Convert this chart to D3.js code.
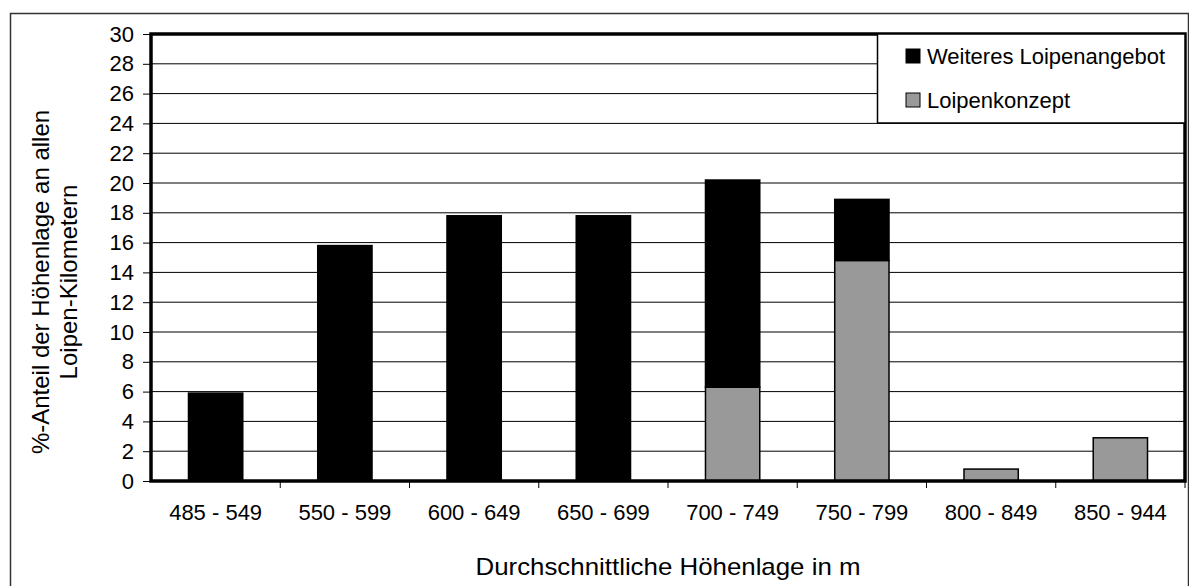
<!DOCTYPE html>
<html lang="de">
<head>
    <meta charset="utf-8"/>
    <title>Höhenlage Loipen</title>
    <script src="https://d3js.org/d3.v7.min.js"></script>
    <style>
        body { margin: 0; background: #fff; }
        svg { display: block; font-family: "Liberation Sans", Arial, sans-serif; }
        text { fill: #000; }
    </style>
</head>
<body>
<svg width="1189" height="586"></svg>
<script>
    // data
    const categories = ["485 - 549", "550 - 599", "600 - 649", "650 - 699", "700 - 749", "750 - 799", "800 - 849", "850 - 944"];
    const loipenkonzept = [0, 0, 0, 0, 6.3, 14.8, 0.8, 2.9];
    const weiteres = [5.9, 15.8, 17.8, 17.8, 13.9, 4.1, 0, 0];
    const yTicks = [0, 2, 4, 6, 8, 10, 12, 14, 16, 18, 20, 22, 24, 26, 28, 30];
    const seriesNames = ["Weiteres Loipenangebot", "Loipenkonzept"];
    const seriesColors = ["#000000", "#999999"];

    const svg = d3.select("svg");
    const plotL = 151, plotR = 1185, plotT = 34, plotB = 481;
    const fs = 22;

    // outer chart frame
    svg.append("rect")
        .attr("x", 10.5).attr("y", 13.5)
        .attr("width", 1178).attr("height", 600)
        .attr("fill", "none").attr("stroke", "#333").attr("stroke-width", 1.5);

    const x = d3.scaleBand().domain(categories).range([plotL, plotR])
        .paddingInner(0.58).paddingOuter(0.29);
    const y = d3.scaleLinear().domain([0, 30]).range([plotB, plotT]);

    // gridlines
    svg.append("g").selectAll("line")
        .data(yTicks.filter(d => d > 0 && d < 30))
        .enter().append("line")
        .attr("x1", plotL).attr("x2", plotR)
        .attr("y1", d => y(d)).attr("y2", d => y(d))
        .attr("stroke", "#000").attr("stroke-width", 1);

    // stacked bars: Loipenkonzept at bottom, Weiteres on top
    const rows = categories.map((c, i) => ({cat: c, k: loipenkonzept[i], w: weiteres[i]}));
    const bars = svg.append("g");
    bars.selectAll(".grey")
        .data(rows.filter(d => d.k > 0))
        .enter().append("rect")
        .attr("class", "grey")
        .attr("x", d => x(d.cat))
        .attr("width", x.bandwidth())
        .attr("y", d => y(d.k))
        .attr("height", d => y(0) - y(d.k))
        .attr("fill", seriesColors[1])
        .attr("stroke", "#000").attr("stroke-width", 1.5);
    bars.selectAll(".black")
        .data(rows.filter(d => d.w > 0))
        .enter().append("rect")
        .attr("class", "black")
        .attr("x", d => x(d.cat))
        .attr("width", x.bandwidth())
        .attr("y", d => y(d.k + d.w))
        .attr("height", d => y(d.k) - y(d.k + d.w))
        .attr("fill", seriesColors[0])
        .attr("stroke", "#000").attr("stroke-width", 1.5);

    // plot border
    svg.append("rect")
        .attr("x", plotL).attr("y", plotT)
        .attr("width", plotR - plotL).attr("height", plotB - plotT)
        .attr("fill", "none").attr("stroke", "#000").attr("stroke-width", 3.5);

    // y axis
    const yAxis = svg.append("g")
        .attr("transform", `translate(${plotL - 1},0)`)
        .call(d3.axisLeft(y).tickValues(yTicks).tickSize(7).tickPadding(9));
    yAxis.select(".domain").remove();
    yAxis.selectAll("line").attr("stroke", "#000").attr("stroke-width", 1);
    yAxis.selectAll("text").attr("font-size", fs).attr("font-family", "Liberation Sans");

    // x axis labels + boundary ticks
    const xAxis = svg.append("g")
        .attr("transform", `translate(0,${plotB})`)
        .call(d3.axisBottom(x).tickSize(0).tickPadding(23));
    xAxis.select(".domain").remove();
    xAxis.selectAll("text").attr("font-size", fs).attr("font-family", "Liberation Sans");

    const half = x.step() * x.paddingInner() / 2;
    svg.append("g").selectAll("line")
        .data(categories)
        .enter().append("line")
        .attr("x1", d => x(d) + x.bandwidth() + half)
        .attr("x2", d => x(d) + x.bandwidth() + half)
        .attr("y1", plotB).attr("y2", plotB + 7)
        .attr("stroke", "#000").attr("stroke-width", 1);

    // axis titles
    svg.append("text")
        .attr("x", (plotL + plotR) / 2).attr("y", 575)
        .attr("text-anchor", "middle").attr("font-size", 24)
        .attr("textLength", 385).attr("lengthAdjust", "spacingAndGlyphs")
        .text("Durchschnittliche Höhenlage in m");

    const yTitle = svg.append("text")
        .attr("transform", "translate(49,282) rotate(-90)")
        .attr("text-anchor", "middle").attr("font-size", 24);
    yTitle.append("tspan").attr("x", 0).attr("dy", 0).text("%-Anteil der Höhenlage an allen");
    yTitle.append("tspan").attr("x", 0).attr("dy", 28).text("Loipen-Kilometern");

    // legend
    const lg = svg.append("g");
    lg.append("rect")
        .attr("x", 877.5).attr("y", plotT)
        .attr("width", plotR - 877.5).attr("height", 89)
        .attr("fill", "#fff").attr("stroke", "#000").attr("stroke-width", 1.5);
    const items = lg.selectAll(".item")
        .data(seriesNames)
        .enter().append("g")
        .attr("class", "item")
        .attr("transform", (d, i) => `translate(906,${49 + i * 44})`);
    items.append("rect")
        .attr("width", 14).attr("height", 14)
        .attr("fill", (d, i) => seriesColors[i])
        .attr("stroke", "#000").attr("stroke-width", 1);
    items.append("text")
        .attr("x", 21).attr("y", 14.5)
        .attr("font-size", fs)
        .text(d => d);
</script>
</body>
</html>
